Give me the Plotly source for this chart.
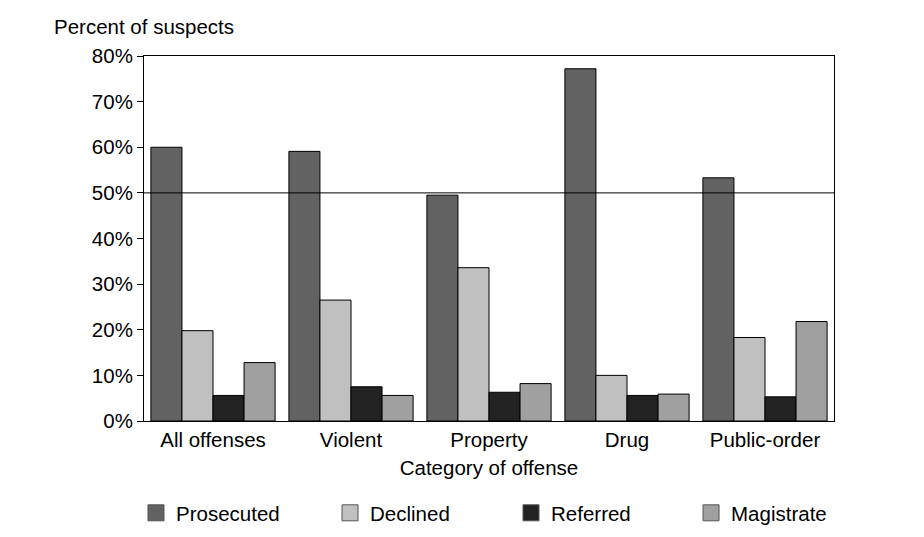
import plotly.graph_objects as go

categories = ["All offenses", "Violent", "Property", "Drug", "Public-order"]
prosecuted = [60.0, 59.1, 49.5, 77.2, 53.3]
declined = [19.8, 26.5, 33.6, 10.0, 18.3]
referred = [5.6, 7.5, 6.3, 5.6, 5.3]
magistrate = [12.8, 5.6, 8.2, 5.9, 21.8]
series_names = ["Prosecuted", "Declined", "Referred", "Magistrate"]
colors = ["#626262", "#c0c0c0", "#222222", "#a0a0a0"]
ytick_vals = [0, 10, 20, 30, 40, 50, 60, 70, 80]
ytick_text = [f"{v}%" for v in ytick_vals]

font = dict(family="Liberation Sans, Arial, sans-serif", size=20.5, color="#000")

fig = go.Figure()
legend_ids = ["legend", "legend2", "legend3", "legend4"]
for name, vals, col, lg in zip(series_names, [prosecuted, declined, referred, magistrate], colors, legend_ids):
    fig.add_trace(go.Bar(name=name, x=categories, y=vals, showlegend=False,
                         marker=dict(color=col, line=dict(color="#000", width=1))))
    # legend-only entry with a larger square swatch
    fig.add_trace(go.Scatter(name=name, x=[None], y=[None], mode="markers", legend=lg,
                             marker=dict(symbol="square", size=16, color=col,
                                         line=dict(color="#555", width=1))))

fig.add_shape(type="line", xref="paper", x0=0, x1=1, yref="y", y0=50, y1=50,
              line=dict(color="#000", width=1))

legend_x = [-0.0116, 0.2696, 0.5319, 0.7928]
legend_common = dict(orientation="h", xanchor="left", y=-0.252, yanchor="middle",
                     font=font, bgcolor="rgba(0,0,0,0)")
layout_legends = {lg: dict(x=lx, **legend_common) for lg, lx in zip(legend_ids, legend_x)}

fig.update_layout(
    width=924, height=537,
    margin=dict(l=136, r=98, t=48, b=120),
    paper_bgcolor="white", plot_bgcolor="white",
    font=font,
    barmode="group", bargap=0.1, bargroupgap=0,
    showlegend=True,
    xaxis=dict(showline=True, linecolor="#000", linewidth=1, mirror=True, ticks="",
               title=dict(text="Category of offense", font=font, standoff=11), tickfont=font),
    yaxis=dict(range=[0, 80], tickvals=ytick_vals, ticktext=ytick_text, showgrid=False,
               showline=True, linecolor="#000", linewidth=1, mirror=True, ticks="outside",
               ticklen=6, tickcolor="#000", tickfont=font, zeroline=False),
    annotations=[dict(text="Percent of suspects", xref="paper", yref="paper", x=-0.1333, y=1.081,
                      xanchor="left", yanchor="middle", showarrow=False, font=font)],
    **layout_legends,
)

fig.write_html("out.html")
